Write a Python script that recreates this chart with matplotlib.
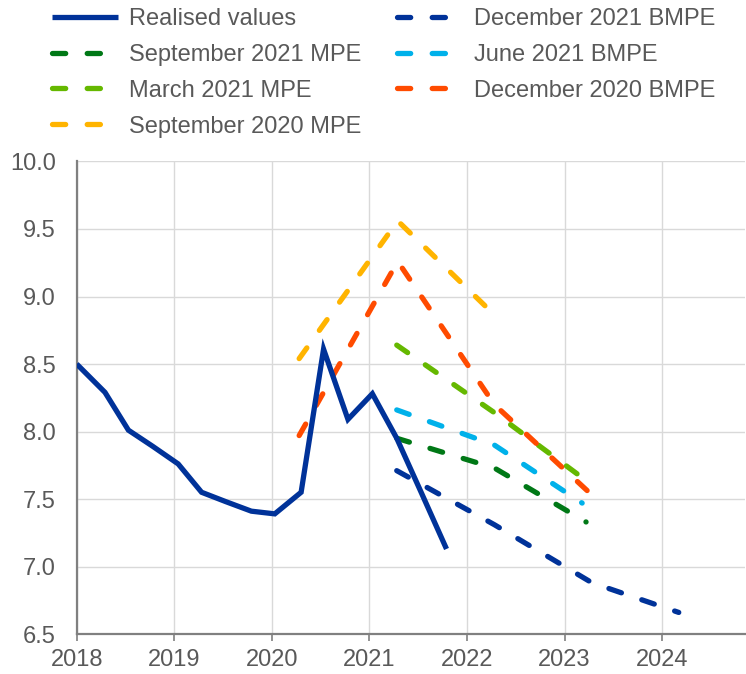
import matplotlib
matplotlib.use("Agg")
import matplotlib.pyplot as plt

plt.rcParams['font.family'] = ['Liberation Sans', 'DejaVu Sans']
plt.rcParams['lines.scale_dashes'] = False

# realised values (quarterly)
real_x = [2018.0, 2018.29, 2018.53, 2018.78, 2019.04, 2019.28, 2019.53, 2019.79,
          2020.03, 2020.30, 2020.53, 2020.78, 2021.03, 2021.28, 2021.53, 2021.79]
real_y = [8.50, 8.29, 8.01, 7.89, 7.76, 7.55, 7.48, 7.41,
          7.39, 7.55, 8.61, 8.09, 8.28, 7.95, 7.55, 7.13]

# projections
sep21_x = [2021.28, 2022.28, 2023.22]
sep21_y = [7.95, 7.73, 7.33]
mar21_x = [2021.28, 2022.28, 2023.29]
mar21_y = [8.64, 8.14, 7.60]
sep20_x = [2020.28, 2021.29, 2022.30]
sep20_y = [8.54, 9.56, 8.85]
dec21_x = [2021.28, 2022.28, 2023.28, 2024.17]
dec21_y = [7.71, 7.31, 6.88, 6.66]
jun21_x = [2021.28, 2022.28, 2023.18]
jun21_y = [8.16, 7.90, 7.47]
dec20_x = [2020.28, 2021.29, 2022.28, 2023.25]
dec20_y = [7.97, 9.26, 8.20, 7.55]

years = [2018, 2019, 2020, 2021, 2022, 2023, 2024]
yticks = [6.5, 7.0, 7.5, 8.0, 8.5, 9.0, 9.5, 10.0]

fig = plt.figure(figsize=(7.46, 6.74), dpi=100)
ax = fig.add_axes([0.1028, 0.0593, 0.896, 0.7011])

lw = 3.8
dash = (0, (9.5, 15.5))
kw = dict(lw=lw, dash_capstyle='round', solid_capstyle='round')

ax.plot(real_x, real_y, color='#003299', lw=lw, solid_joinstyle='miter',
        solid_capstyle='butt', label='Realised values', zorder=5)
ax.plot(sep21_x, sep21_y, color='#007816', ls=dash, label='September 2021 MPE', **kw)
ax.plot(mar21_x, mar21_y, color='#65b800', ls=dash, label='March 2021 MPE', **kw)
ax.plot(sep20_x, sep20_y, color='#ffb400', ls=dash, label='September 2020 MPE', **kw)
ax.plot(dec21_x, dec21_y, color='#003299', ls=dash, label='December 2021 BMPE', **kw)
ax.plot(jun21_x, jun21_y, color='#00b1ea', ls=dash, label='June 2021 BMPE', **kw)
ax.plot(dec20_x, dec20_y, color='#ff4b00', ls=dash, label='December 2020 BMPE', **kw)

ax.set_xlim(2018, 2024.85)
ax.set_ylim(6.5, 10.0)
ax.set_xticks(years)
ax.set_xticklabels([str(y) for y in years])
ax.set_yticks(yticks)
ax.set_yticklabels(['%.1f' % v for v in yticks])

ax.grid(True, color='#d9d9d9', lw=1.0)
ax.set_axisbelow(True)
for s in ['top', 'right']:
    ax.spines[s].set_visible(False)
for s in ['left', 'bottom']:
    ax.spines[s].set_color('#808080')
    ax.spines[s].set_linewidth(1.6)

ax.tick_params(axis='x', length=5, width=1.2, color='#808080', pad=6,
               labelsize=17, labelcolor='#595959')
ax.tick_params(axis='y', length=0, pad=15, labelsize=17, labelcolor='#595959')

fig.legend(loc='upper left', bbox_to_anchor=(0.0697, 0.988), ncol=2,
           frameon=False, borderpad=0, borderaxespad=0,
           handlelength=2.8, handletextpad=0.46, columnspacing=1.5,
           labelspacing=0.585, prop={'size': 17},
           labelcolor='#595959')

fig.savefig('out.png', dpi=100)
